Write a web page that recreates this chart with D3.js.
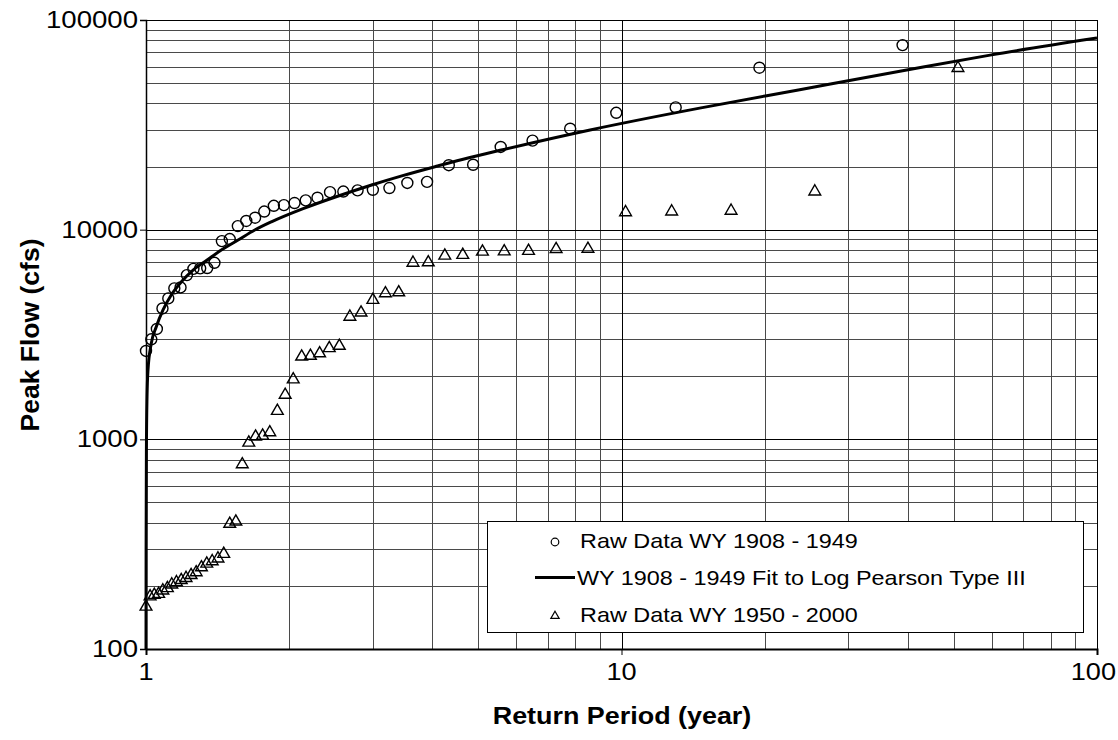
<!DOCTYPE html>
<html>
<head>
<meta charset="utf-8">
<script src="https://cdn.jsdelivr.net/npm/d3@7"></script>
<style>
  body { margin: 0; background: #fff; }
  svg { display: block; }
  text { font-family: "Liberation Sans", Arial, Helvetica, sans-serif; fill: #000; }
</style>
</head>
<body>
<svg id="chart" width="1118" height="740"></svg>
<script>
// Axis extents and tick labels
const xDomain = [1, 100];
const yDomain = [100, 100000];
const xTickValues = [1, 10, 100];
const xTickLabels = ["1", "10", "100"];
const yTickValues = [100, 1000, 10000, 100000];
const yTickLabels = ["100", "1000", "10000", "100000"];

// Ranked annual peaks, WY 1908 - 1949: return period (years) and peak flow (cfs)
const earlyReturnPeriod = [1.000, 1.026, 1.054, 1.083, 1.114, 1.147, 1.182, 1.219, 1.258, 1.300,
  1.345, 1.393, 1.444, 1.500, 1.560, 1.625, 1.696, 1.773, 1.857, 1.950,
  2.053, 2.167, 2.294, 2.438, 2.600, 2.786, 3.000, 3.250, 3.545, 3.900,
  4.333, 4.875, 5.571, 6.500, 7.800, 9.750, 13.00, 19.50, 39.00];
const earlyPeakFlow = [2640, 3000, 3360, 4210, 4700, 5250, 5300, 6070, 6500, 6540,
  6560, 6950, 8820, 9020, 10400, 11000, 11400, 12200, 13000, 13100,
  13400, 13800, 14200, 15100, 15200, 15400, 15500, 15800, 16700, 16900,
  20300, 20400, 24800, 26600, 30300, 36100, 38300, 59200, 75900];

// Log Pearson Type III frequency curve fitted to WY 1908 - 1949
const fitReturnPeriod = [1.0001, 1.0005, 1.002, 1.005, 1.0097, 1.026, 1.051, 1.086, 1.130, 1.187,
  1.256, 1.329, 1.440, 1.562, 1.693, 1.835, 2.14, 2.52, 2.96, 3.48,
  4.08, 4.80, 5.55, 8.59, 14.6, 23.7, 38.5, 59.6, 100];
const fitPeakFlow = [100, 300, 900, 1600, 2140, 2870, 3440, 4140, 4880, 5640,
  6420, 7030, 7990, 8920, 9960, 10900, 12600, 14400, 16250, 18150,
  20050, 22100, 23900, 29900, 38000, 46500, 56900, 68000, 82000];

// Ranked annual peaks, WY 1950 - 2000
const lateReturnPeriod = [1.000, 1.020, 1.041, 1.063, 1.085, 1.109, 1.133, 1.159, 1.186, 1.214,
  1.244, 1.275, 1.308, 1.342, 1.378, 1.417, 1.457, 1.500, 1.545, 1.594,
  1.645, 1.700, 1.759, 1.821, 1.889, 1.962, 2.040, 2.125, 2.217, 2.318,
  2.429, 2.550, 2.684, 2.833, 3.000, 3.188, 3.400, 3.643, 3.923, 4.250,
  4.636, 5.100, 5.667, 6.375, 7.286, 8.500, 10.20, 12.75, 17.00, 25.50, 51.00];
const latePeakFlow = [159, 178, 181, 183, 190, 195, 203, 208, 213, 218,
  225, 232, 245, 255, 262, 270, 284, 395, 405, 760,
  963, 1030, 1040, 1080, 1365, 1630, 1930, 2480, 2500, 2570,
  2720, 2790, 3840, 4020, 4620, 4970, 5020, 6950, 6980, 7510,
  7570, 7850, 7870, 7910, 8080, 8100, 12100, 12200, 12300, 15200, 59000];

const seriesLabels = ["Raw Data WY 1908 - 1949", "WY 1908 - 1949 Fit to Log Pearson Type III", "Raw Data WY 1950 - 2000"];
const xTitle = "Return Period (year)";
const yTitle = "Peak Flow (cfs)";

// ---- layout ----
const W = 1118;
const plot = { left: 146, top: 20, right: 1097, bottom: 649 };
const svg = d3.select("#chart");

const x = d3.scaleLog().domain(xDomain).range([plot.left, plot.right]);
const y = d3.scaleLog().domain(yDomain).range([plot.bottom, plot.top]);

// text drawn slightly wider than its height
function wideText(g, tx, ty, str, opts = {}) {
  const sx = opts.sx || 1.17;
  const t = g.append("text")
    .attr("text-anchor", opts.anchor || "start")
    .attr("dominant-baseline", "central")
    .style("font-size", (opts.size || 20) + "px")
    .text(str);
  if (opts.bold) t.style("font-weight", "bold");
  if (opts.anchor === "middle") {
    // keep centred labels inside the drawing
    const half = t.node().getComputedTextLength() * sx / 2;
    tx = Math.min(tx, W - half - 2);
  }
  t.attr("transform", `translate(${tx},${ty}) scale(${sx},1)`);
  return t;
}

// gridlines
const grid = svg.append("g");
const xMinor = [];
for (let d = 1; d < 100; d *= 10) for (let k = 2; k <= 9; k++) xMinor.push(d * k);
const yMinor = [];
for (let d = 100; d < 100000; d *= 10) for (let k = 2; k <= 9; k++) yMinor.push(d * k);

grid.selectAll(".gx").data(xMinor).join("line")
  .attr("x1", d => Math.round(x(d)) + 0.5).attr("x2", d => Math.round(x(d)) + 0.5)
  .attr("y1", plot.top).attr("y2", plot.bottom)
  .attr("stroke", "#4a4a4a").attr("stroke-width", 1);
grid.selectAll(".gy").data(yMinor).join("line")
  .attr("y1", d => Math.round(y(d)) + 0.5).attr("y2", d => Math.round(y(d)) + 0.5)
  .attr("x1", plot.left).attr("x2", plot.right)
  .attr("stroke", "#4a4a4a").attr("stroke-width", 1);
grid.selectAll(".mx").data(xTickValues).join("line")
  .attr("x1", d => Math.round(x(d)) + 0.5).attr("x2", d => Math.round(x(d)) + 0.5)
  .attr("y1", plot.top).attr("y2", plot.bottom)
  .attr("stroke", "#000").attr("stroke-width", 1);
grid.selectAll(".my").data(yTickValues).join("line")
  .attr("y1", d => Math.round(y(d)) + 0.5).attr("y2", d => Math.round(y(d)) + 0.5)
  .attr("x1", plot.left).attr("x2", plot.right)
  .attr("stroke", "#000").attr("stroke-width", 1);

// axes
const xAxis = d3.axisBottom(x).tickValues(xTickValues).tickFormat(() => "").tickSize(6);
const yAxis = d3.axisLeft(y).tickValues(yTickValues).tickFormat(() => "").tickSize(6);
const gx = svg.append("g").attr("transform", `translate(0,${plot.bottom})`).call(xAxis);
const gy = svg.append("g").attr("transform", `translate(${plot.left},0)`).call(yAxis);
gx.select(".domain").attr("stroke", "#000").attr("stroke-width", 2);
gy.select(".domain").attr("stroke", "#000").attr("stroke-width", 1.5);
gx.selectAll(".tick line").attr("stroke", "#000");
gy.selectAll(".tick line").attr("stroke", "#000");

const labels = svg.append("g");
xTickValues.forEach((v, i) => wideText(labels, x(v), 672, xTickLabels[i], { anchor: "middle", size: 23, sx: 1.18 }));
yTickValues.forEach((v, i) => wideText(labels, 138, y(v), yTickLabels[i], { anchor: "end", size: 23, sx: 1.2 }));

wideText(labels, 622, 716, xTitle, { anchor: "middle", bold: true, size: 23 });
svg.append("text")
  .attr("transform", `translate(30,335) rotate(-90)`)
  .attr("text-anchor", "middle").attr("dominant-baseline", "central")
  .style("font-size", "26.5px").style("font-weight", "bold")
  .text(yTitle);

// fitted curve
const fit = fitReturnPeriod.map((t, i) => [t, fitPeakFlow[i]]);
svg.append("path")
  .datum(fit)
  .attr("fill", "none").attr("stroke", "#000").attr("stroke-width", 3)
  .attr("d", d3.line().x(d => x(d[0])).y(d => y(d[1])).curve(d3.curveMonotoneX));

// raw data markers
const early = earlyReturnPeriod.map((t, i) => [t, earlyPeakFlow[i]]);
svg.append("g").selectAll("circle").data(early).join("circle")
  .attr("cx", d => x(d[0])).attr("cy", d => y(d[1])).attr("r", 5.5)
  .attr("fill", "none").attr("stroke", "#000").attr("stroke-width", 1.4);

const tri = d3.symbol().type(d3.symbolTriangle).size(60);
const late = lateReturnPeriod.map((t, i) => [t, latePeakFlow[i]]);
svg.append("g").selectAll("path").data(late).join("path")
  .attr("transform", d => `translate(${x(d[0])},${y(d[1])})`)
  .attr("d", tri)
  .attr("fill", "none").attr("stroke", "#000").attr("stroke-width", 1.4);

// legend
const lg = svg.append("g");
lg.append("rect").attr("x", 487.5).attr("y", 521.5).attr("width", 596).attr("height", 111)
  .attr("fill", "#fff").attr("stroke", "#000").attr("stroke-width", 1);
lg.append("circle").attr("cx", 555).attr("cy", 542).attr("r", 3.8)
  .attr("fill", "none").attr("stroke", "#000").attr("stroke-width", 1.2);
wideText(lg, 580, 541, seriesLabels[0]);
lg.append("line").attr("x1", 535).attr("x2", 575).attr("y1", 577.5).attr("y2", 577.5)
  .attr("stroke", "#000").attr("stroke-width", 3);
wideText(lg, 577, 578, seriesLabels[1]);
lg.append("path").attr("transform", "translate(555,616)")
  .attr("d", d3.symbol().type(d3.symbolTriangle).size(30))
  .attr("fill", "none").attr("stroke", "#000").attr("stroke-width", 1.2);
wideText(lg, 580, 615, seriesLabels[2]);
</script>
</body>
</html>
